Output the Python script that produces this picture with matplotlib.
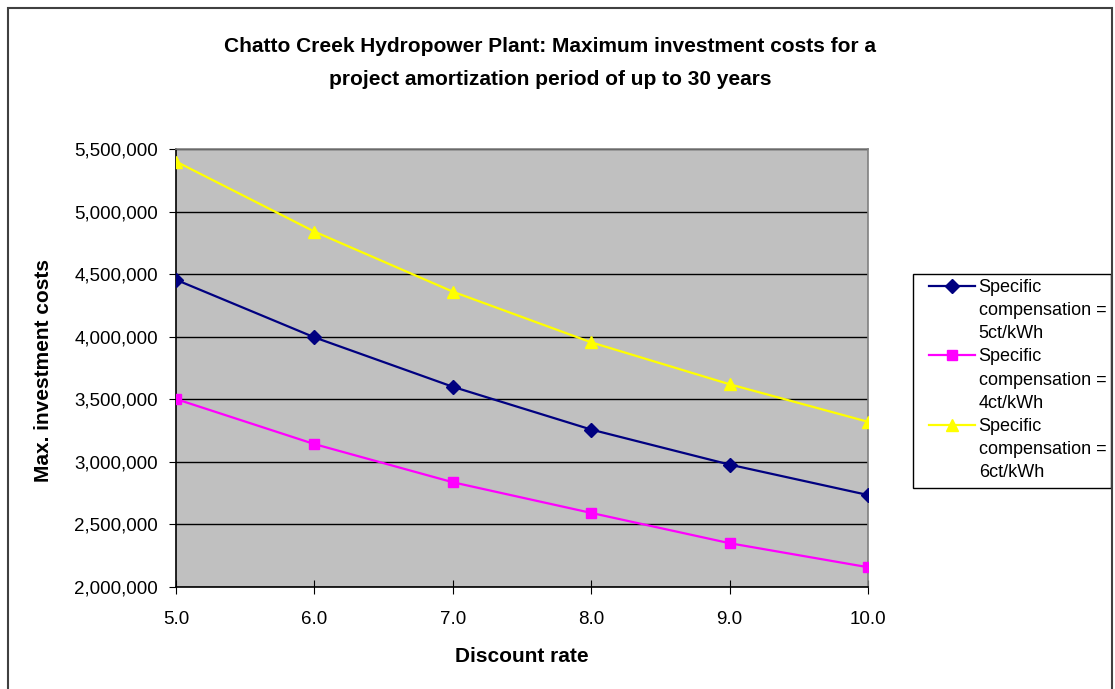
import matplotlib

matplotlib.use("Agg")
import matplotlib.pyplot as plt
from matplotlib.lines import Line2D
from matplotlib.patches import Rectangle
from matplotlib.ticker import FuncFormatter

plt.rcParams["font.family"] = ["Liberation Sans", "DejaVu Sans"]

discount_rate = [5.0, 6.0, 7.0, 8.0, 9.0, 10.0]
comp_5ct = [4455000, 3995000, 3600000, 3258000, 2978000, 2735000]
comp_4ct = [3502000, 3142000, 2837000, 2592000, 2350000, 2158000]
comp_6ct = [5400000, 4840000, 4360000, 3955000, 3620000, 3320000]
labels = [
    "Specific\ncompensation =\n5ct/kWh",
    "Specific\ncompensation =\n4ct/kWh",
    "Specific\ncompensation =\n6ct/kWh",
]

W, H = 1115, 689
fig = plt.figure(figsize=(W / 100, H / 100), dpi=100)
ax = fig.add_axes([176 / W, 1 - 587 / H, 692 / W, 438 / H])
ax.set_facecolor("#c0c0c0")

lines = []
lines += ax.plot(discount_rate, comp_5ct, color="#000080", lw=1.6, marker="D", ms=7, zorder=3)
lines += ax.plot(discount_rate, comp_4ct, color="#ff00ff", lw=1.6, marker="s", ms=7, zorder=3)
lines += ax.plot(discount_rate, comp_6ct, color="#ffff00", lw=1.6, marker="^", ms=8, zorder=3)

ax.set_xlim(5.0, 10.0)
ax.set_ylim(2000000, 5500000)
ax.set_xticks(discount_rate)
ax.xaxis.set_major_formatter(FuncFormatter(lambda v, p: f"{v:.1f}"))
ax.set_yticks(range(2000000, 5500001, 500000))
ax.yaxis.set_major_formatter(FuncFormatter(lambda v, p: f"{int(v):,}"))
ax.grid(axis="y", color="black", lw=1.0)
ax.set_axisbelow(True)

ax.tick_params(axis="x", direction="inout", length=10, width=0.8, pad=12, labelsize=13.5)
ax.tick_params(axis="y", direction="out", length=5, width=0.8, pad=8, labelsize=13.5)
for side in ("top", "right"):
    ax.spines[side].set_color("#808080")
    ax.spines[side].set_linewidth(1.2)
for side in ("left", "bottom"):
    ax.spines[side].set_color("black")
    ax.spines[side].set_linewidth(1.2)

ax.set_xlabel("Discount rate", fontsize=15, fontweight="bold", labelpad=14)
fig.text(44 / W, 1 - 370 / H, "Max. investment costs", rotation=90, fontsize=15,
         fontweight="bold", ha="center", va="center")

fig.text(550 / W, 1 - 63 / H,
         "Chatto Creek Hydropower Plant: Maximum investment costs for a\n"
         "project amortization period of up to 30 years",
         ha="center", va="center", fontsize=15, fontweight="bold", linespacing=1.9)

# legend: one row per text line, marker only on the first line of each entry
blank = Line2D([], [], linestyle="none")
handles, texts = [], []
for line, label in zip(lines, labels):
    for i, part in enumerate(label.split("\n")):
        handles.append(line if i == 0 else blank)
        texts.append(part)
leg = fig.legend(handles, texts, loc="upper left", bbox_to_anchor=(929 / W, 1 - 279 / H),
                 fontsize=13, frameon=False, borderpad=0,
                 handlelength=2.55, handletextpad=0.2, labelspacing=0.34,
                 borderaxespad=0)
fig.patches.append(Rectangle((913 / W, 1 - 488 / H), 198 / W, 214 / H,
                             transform=fig.transFigure, fill=False,
                             edgecolor="black", lw=1.0))

fig.patches.append(Rectangle((8 / W, -0.01), 1104 / W, 1 - 8 / H + 0.01,
                             transform=fig.transFigure, fill=False,
                             edgecolor="#404040", lw=1.5))

fig.savefig("out.png", dpi=100)
